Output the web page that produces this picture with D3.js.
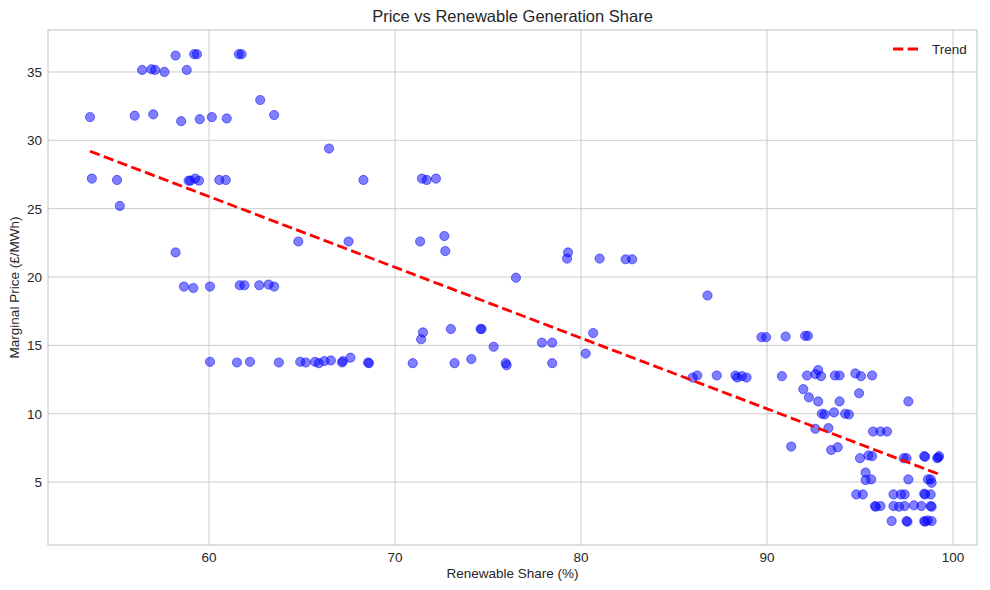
<!DOCTYPE html>
<html><head>
<meta charset="utf-8">
<title>Price vs Renewable Generation Share</title>
<script src="https://d3js.org/d3.v7.min.js"></script>
<style>
  body { margin: 0; background: #fff; }
  text { font-family: "Liberation Sans", Arial, sans-serif; fill: #262626; }
</style>
</head>
<body>
<svg id="chart" width="990" height="590"></svg>
<script>
// renewable share (%) and marginal price (£/MWh)
const renewShare = [
  53.6, 53.7, 55.05, 55.2, 56.0, 56.4, 56.9, 57.1, 57.0, 57.6,
  58.2, 58.2, 58.5, 58.8, 58.65, 58.9, 59.0, 59.15, 59.2, 59.35,
  59.25, 59.46, 59.5, 60.15, 60.95, 60.55, 60.9, 60.05, 61.65, 61.9,
  62.7, 63.2, 63.5, 61.6, 61.75, 62.75, 63.5, 66.45, 68.3, 64.8,
  67.5, 60.05, 61.5, 62.2, 63.75, 64.9, 65.2, 65.7, 65.9, 66.2,
  66.55, 67.15, 67.2, 67.6, 68.55, 68.6, 71.45, 71.7, 72.2, 71.35,
  72.65, 72.7, 76.5, 79.3, 79.25, 81.0, 82.4, 82.75, 71.4, 71.5,
  73.0, 74.6, 74.65, 75.3, 77.9, 78.45, 80.65, 80.25, 70.95, 73.2,
  74.1, 75.95, 76.0, 78.45, 86.8, 89.7, 89.95, 91.0, 92.05, 92.2,
  86.0, 86.25, 87.3, 88.3, 88.4, 88.65, 88.9, 90.8, 92.15, 92.6,
  92.75, 92.9, 93.65, 93.9, 94.75, 95.05, 95.65, 91.95, 92.25, 92.75,
  93.9, 94.95, 97.6, 92.95, 93.1, 93.6, 94.2, 94.4, 92.6, 93.3,
  95.7, 96.1, 96.45, 91.3, 93.45, 93.8, 95.0, 95.45, 95.65, 97.35,
  97.5, 98.45, 98.5, 99.15, 99.25, 99.2, 95.3, 95.3, 95.6, 97.6,
  98.65, 98.8, 98.85, 94.8, 95.15, 96.8, 97.2, 97.4, 98.45, 98.5,
  98.8, 95.8, 95.85, 96.1, 96.8, 97.1, 97.4, 97.9, 98.3, 98.8,
  98.85, 96.7, 97.5, 97.55, 98.45, 98.5, 98.65, 98.85
];
const price = [
  31.7, 27.2, 27.1, 25.2, 31.8, 35.15, 35.2, 35.15, 31.9, 35.0,
  36.2, 21.8, 31.4, 35.15, 19.3, 27.05, 27.05, 19.2, 36.3, 36.3,
  27.2, 27.05, 31.55, 31.7, 31.6, 27.1, 27.1, 19.3, 19.4, 19.4,
  19.4, 19.45, 19.3, 36.3, 36.3, 32.95, 31.85, 29.4, 27.1, 22.6,
  22.6, 13.8, 13.75, 13.8, 13.75, 13.8, 13.75, 13.8, 13.7, 13.85,
  13.9, 13.75, 13.85, 14.1, 13.75, 13.7, 27.2, 27.1, 27.2, 22.6,
  23.0, 21.9, 19.95, 21.8, 21.35, 21.35, 21.3, 21.3, 15.45, 15.95,
  16.2, 16.2, 16.2, 14.9, 15.2, 15.2, 15.9, 14.4, 13.7, 13.7,
  14.0, 13.7, 13.55, 13.7, 18.65, 15.6, 15.6, 15.65, 15.7, 15.7,
  12.65, 12.8, 12.8, 12.8, 12.65, 12.75, 12.65, 12.75, 12.8, 12.9,
  13.2, 12.75, 12.8, 12.8, 12.95, 12.75, 12.8, 11.8, 11.2, 10.9,
  10.9, 11.5, 10.9, 10.0, 9.95, 10.1, 10.0, 9.95, 8.9, 8.95,
  8.7, 8.7, 8.7, 7.6, 7.35, 7.55, 6.75, 6.95, 6.9, 6.75,
  6.75, 6.9, 6.85, 6.75, 6.9, 6.8, 5.7, 5.15, 5.2, 5.2,
  5.2, 5.2, 4.95, 4.1, 4.1, 4.1, 4.1, 4.1, 4.15, 4.1,
  4.1, 3.25, 3.2, 3.25, 3.25, 3.2, 3.25, 3.3, 3.25, 3.25,
  3.2, 2.15, 2.15, 2.1, 2.15, 2.1, 2.2, 2.15
];
// trend line end points
const trendX = [53.6, 99.2];
const trendY = [29.2, 5.6];

const xTicks = [60, 70, 80, 90, 100];
const yTicks = [5, 10, 15, 20, 25, 30, 35];

const svg = d3.select("#chart");
const m = { left: 48, right: 977, top: 30, bottom: 545 };

const x = d3.scaleLinear().domain([51.34, 101.29]).range([m.left, m.right]);
const y = d3.scaleLinear().domain([0.4, 38.07]).range([m.bottom, m.top]);

// grid
svg.append("g").selectAll("line").data(xTicks).join("line")
  .attr("x1", d => x(d)).attr("x2", d => x(d))
  .attr("y1", m.top).attr("y2", m.bottom)
  .attr("stroke", "#cccccc").attr("stroke-width", 1);
svg.append("g").selectAll("line").data(yTicks).join("line")
  .attr("x1", m.left).attr("x2", m.right)
  .attr("y1", d => y(d)).attr("y2", d => y(d))
  .attr("stroke", "#cccccc").attr("stroke-width", 1);

// frame
svg.append("rect")
  .attr("x", m.left).attr("y", m.top)
  .attr("width", m.right - m.left).attr("height", m.bottom - m.top)
  .attr("fill", "none").attr("stroke", "#cccccc").attr("stroke-width", 1.2);

// tick labels
svg.append("g").selectAll("text").data(xTicks).join("text")
  .attr("x", d => x(d)).attr("y", m.bottom + 17)
  .attr("text-anchor", "middle").attr("font-size", 13.5)
  .text(d => d);
svg.append("g").selectAll("text").data(yTicks).join("text")
  .attr("x", m.left - 6).attr("y", d => y(d) + 5)
  .attr("text-anchor", "end").attr("font-size", 13.5)
  .text(d => d);

// points
const pts = renewShare.map((r, i) => ({ r: r, p: price[i] }));
svg.append("g").selectAll("circle").data(pts).join("circle")
  .attr("cx", d => x(d.r)).attr("cy", d => y(d.p))
  .attr("r", 4.6)
  .attr("fill", "blue").attr("fill-opacity", 0.5)
  .attr("stroke", "blue").attr("stroke-opacity", 0.5).attr("stroke-width", 1);

// trend
svg.append("line")
  .attr("x1", x(trendX[0])).attr("y1", y(trendY[0]))
  .attr("x2", x(trendX[1])).attr("y2", y(trendY[1]))
  .attr("stroke", "red").attr("stroke-width", 2.8)
  .attr("stroke-dasharray", "10.3,4.4");

// legend
svg.append("line")
  .attr("x1", 893).attr("x2", 918).attr("y1", 49).attr("y2", 49)
  .attr("stroke", "red").attr("stroke-width", 2.8)
  .attr("stroke-dasharray", "10.3,4.4");
svg.append("text").attr("x", 932).attr("y", 54)
  .attr("font-size", 13.5).text("Trend");

// titles
svg.append("text").attr("x", (m.left + m.right) / 2).attr("y", 22)
  .attr("text-anchor", "middle").attr("font-size", 16.5)
  .text("Price vs Renewable Generation Share");
svg.append("text").attr("x", (m.left + m.right) / 2).attr("y", 578)
  .attr("text-anchor", "middle").attr("font-size", 13.5)
  .text("Renewable Share (%)");
svg.append("text")
  .attr("transform", `translate(19, ${(m.top + m.bottom) / 2}) rotate(-90)`)
  .attr("text-anchor", "middle").attr("font-size", 13.5)
  .text("Marginal Price (£/MWh)");
</script>
</body>
</html>
